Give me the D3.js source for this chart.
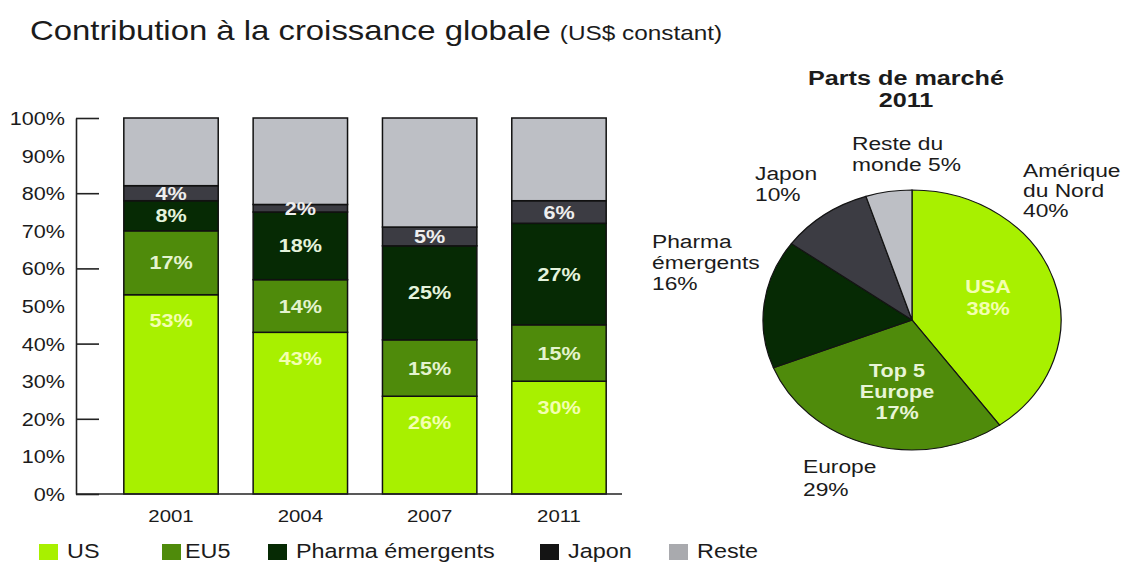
<!DOCTYPE html>
<html lang="fr">
<head>
<meta charset="utf-8">
<script src="https://cdn.jsdelivr.net/npm/d3@7"></script>
<style>
  html, body { margin: 0; padding: 0; background: #fff; }
  svg { display: block; font-family: "Liberation Sans", Arial, Helvetica, sans-serif; }
</style>
</head>
<body>
<svg id="chart" width="1126" height="565"></svg>
<script>
// ---- Data -------------------------------------------------------------
const years = ["2001", "2004", "2007", "2011"];
const seriesKeys = ["US", "EU5", "Pharma émergents", "Japon", "Reste"];
const us       = [53, 43, 26, 30];
const eu5      = [17, 14, 15, 15];
const emerging = [8, 18, 25, 27];
const japon    = [4, 2, 5, 6];
const reste    = [18, 23, 29, 22];
const yTickValues  = [0, 10, 20, 30, 40, 50, 60, 70, 80, 90, 100];
const yMajorTicks  = [0, 20, 40, 60, 80, 100];

const pieNames  = ["Amérique du Nord", "Europe", "Pharma émergents", "Japon", "Reste du monde"];
const pieValues = [40, 29, 16, 10, 5];

// ---- Styling ------------------------------------------------------------
const segColors = ["#a8f000", "#4f8b0b", "#062a04", "#3c3c43", "#bdbfc5"];
const legendColors = ["#a8f000", "#4f8b0b", "#062a04", "#141414", "#a9aaae"];
const labelColors = ["#f3ffb0", "#e4f3cf", "#e4f3dc", "#eeeeee", "#eeeeee"];
const TEXT = "#1b1b1b";
const TX = 1.2;   // horizontal text stretch

const svg = d3.select("#chart");

function txt(parent, x, y, str, o = {}) {
  return parent.append("text")
    .attr("transform", `translate(${x},${y}) scale(${TX},1)`)
    .attr("text-anchor", o.anchor || "start")
    .attr("font-size", o.size || 18)
    .attr("font-weight", o.weight || "normal")
    .attr("fill", o.fill || TEXT)
    .text(str);
}

// ---- Title --------------------------------------------------------------
const title = svg.append("text")
  .attr("transform", `translate(30,40) scale(${TX},1)`)
  .attr("fill", TEXT)
  .attr("font-size", 27.4);
title.append("tspan").text("Contribution à la croissance globale ");
title.append("tspan").attr("font-size", 20.3).text("(US$ constant)");

// ---- Stacked bars -------------------------------------------------------
const table = years.map((yr, i) => ({
  year: yr,
  "US": us[i], "EU5": eu5[i], "Pharma émergents": emerging[i], "Japon": japon[i], "Reste": reste[i]
}));
const stacked = d3.stack().keys(seriesKeys)(table);

const axisX = 76, y0px = 494, y100px = 118;
const x = d3.scaleBand().domain(years).range([107, 623]).paddingInner(0.27).paddingOuter(0.13);
const y = d3.scaleLinear().domain([0, 100]).range([y0px, y100px]);

const bars = svg.append("g");
stacked.forEach((layer, li) => {
  const g = bars.append("g");
  g.selectAll("rect").data(layer).join("rect")
    .attr("x", d => x(d.data.year))
    .attr("y", d => y(d[1]))
    .attr("width", x.bandwidth())
    .attr("height", d => y(d[0]) - y(d[1]))
    .attr("fill", segColors[li])
    .attr("stroke", "#111")
    .attr("stroke-width", 1.5);
});

// value labels inside the segments (all except "Reste")
stacked.forEach((layer, li) => {
  if (seriesKeys[li] === "Reste") return;
  layer.forEach(d => {
    const cx = x(d.data.year) + x.bandwidth() / 2;
    const cy = li === 0 ? y(d[1]) + 26 : (y(d[0]) + y(d[1])) / 2;
    txt(bars, cx, cy + 6.5, (d[1] - d[0]) + "%", {
      anchor: "middle", size: 18, weight: "bold", fill: labelColors[li]
    });
  });
});

// ---- Axes -----------------------------------------------------------------
const yLabels = svg.append("g")
  .attr("transform", `translate(${axisX},0)`)
  .call(d3.axisLeft(y).tickValues(yTickValues).tickSize(0).tickFormat(d => d + "%"));
yLabels.select(".domain").remove();
yLabels.selectAll("text")
  .attr("x", -11 / TX).attr("dy", "0.36em")
  .attr("transform", `scale(${TX},1)`)
  .attr("font-size", 18).attr("fill", TEXT)
  .attr("font-family", null);

const yTicksG = svg.append("g")
  .attr("transform", `translate(${axisX},0)`)
  .call(d3.axisRight(y).tickValues(yMajorTicks).tickSize(23).tickSizeOuter(0).tickFormat(""));
yTicksG.selectAll("path, line").attr("stroke", "#222").attr("stroke-width", 1.6);

const xAxis = svg.append("g")
  .attr("transform", `translate(0,${y0px})`)
  .call(d3.axisBottom(x).tickSize(0));
xAxis.select(".domain").remove();
xAxis.selectAll("text")
  .attr("y", 28).attr("dy", 0)
  .attr("transform", `scale(${TX},1)`)
  .attr("x", 0)
  .attr("font-size", 17).attr("fill", TEXT)
  .attr("font-family", null);
svg.append("line")
  .attr("x1", axisX).attr("x2", 622)
  .attr("y1", y0px).attr("y2", y0px)
  .attr("stroke", "#222").attr("stroke-width", 1.6);

// ---- Legend -------------------------------------------------------------
const legendX = [39, 162, 268, 540, 669];
const legend = svg.append("g");
seriesKeys.forEach((k, i) => {
  legend.append("rect")
    .attr("x", legendX[i]).attr("y", 544)
    .attr("width", 19).attr("height", 16)
    .attr("fill", legendColors[i]);
  txt(legend, legendX[i] + (i === 1 ? 23 : 28), 558, k, { size: 19.5 });
});

// ---- Pie ---------------------------------------------------------------
const pcx = 912, pcy = 320, pr = 130, stretch = 149 / 130;
const pieData = d3.pie().sort(null).value(d => d)(pieValues);
const arc = d3.arc().innerRadius(0).outerRadius(pr);
svg.append("g")
  .attr("transform", `translate(${pcx},${pcy}) scale(${stretch},1)`)
  .selectAll("path").data(pieData).join("path")
  .attr("d", arc)
  .attr("fill", (d, i) => segColors[i])
  .attr("stroke", "#141414")
  .attr("stroke-width", 1.1);

const pieText = svg.append("g");
txt(pieText, 906, 85, "Parts de marché", { anchor: "middle", size: 21, weight: "bold" });
txt(pieText, 906, 107, "2011", { anchor: "middle", size: 21, weight: "bold" });

function block(xp, yp, lines, o) {
  lines.forEach((l, i) => txt(pieText, xp, yp + i * (o.lh || 21), l, o));
}
block(852, 150, ["Reste du", "monde  " + pieValues[4] + "%"], { size: 19 });
block(755, 180, ["Japon", pieValues[3] + "%"], { size: 19 });
block(1023, 177, ["Amérique", "du Nord", pieValues[0] + "%"], { size: 19, lh: 20 });
block(652, 248, ["Pharma", "émergents", pieValues[2] + "%"], { size: 19 });
block(803, 473, ["Europe", pieValues[1] + "%"], { size: 19, lh: 23 });
block(988, 293, ["USA", "38%"], { size: 18, weight: "bold", anchor: "middle", fill: "#f3ffb0", lh: 22 });
block(897, 377, ["Top 5", "Europe", "17%"], { size: 18, weight: "bold", anchor: "middle", fill: "#e8f5d6", lh: 21 });
</script>
</body>
</html>
